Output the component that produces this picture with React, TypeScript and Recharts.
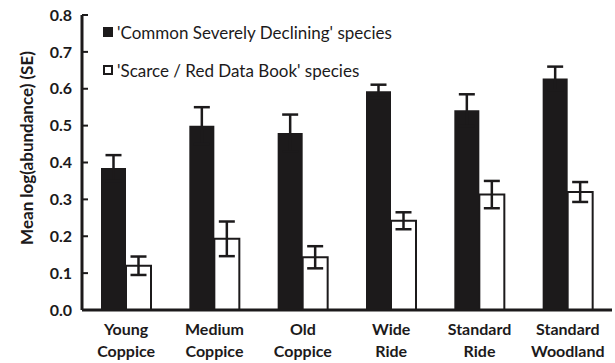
import { Bar, BarChart, ErrorBar, XAxis, YAxis } from 'recharts';

const HABITATS = [
  'Young Coppice',
  'Medium Coppice',
  'Old Coppice',
  'Wide Ride',
  'Standard Ride',
  'Standard Woodland',
];
const DECLINING = [0.385, 0.5, 0.48, 0.593, 0.542, 0.628];
const DECLINING_SE = [0.035, 0.05, 0.05, 0.018, 0.043, 0.032];
const SCARCE = [0.12, 0.193, 0.143, 0.242, 0.313, 0.32];
const SCARCE_SE = [0.025, 0.047, 0.03, 0.023, 0.037, 0.027];
const Y_TICKS = [0, 0.1, 0.2, 0.3, 0.4, 0.5, 0.6, 0.7, 0.8];

const data = HABITATS.map((name, i) => ({
  name,
  declining: DECLINING[i],
  decliningSe: DECLINING_SE[i],
  scarce: SCARCE[i],
  scarceSe: SCARCE_SE[i],
}));

const FONT = 'Lato, "Open Sans", sans-serif';
const INK = '#1c1a1b';

function HabitatTick({ x, y, payload }: any) {
  const words = String(payload.value).split(' ');
  return (
    <text
      x={x}
      y={y}
      textAnchor="middle"
      fontFamily={FONT}
      fontWeight={700}
      fontSize={16}
      fill={INK}
    >
      {words.map((w, i) => (
        <tspan key={w} x={x} dy={i === 0 ? 17 : 22}>
          {w}
        </tspan>
      ))}
    </text>
  );
}

function AxisTitle() {
  return (
    <text
      x={26}
      y={148}
      transform="rotate(-90 26 148)"
      textAnchor="middle"
      dominantBaseline="central"
      fontFamily={FONT}
      fontWeight={700}
      fontSize={17}
      fill={INK}
    >
      Mean log(abundance) (SE)
    </text>
  );
}

// legend drawn as an overlay so it does not eat plot space
function SeriesKey() {
  const rows = [
    { label: "'Common Severely Declining' species", fill: INK },
    { label: "'Scarce / Red Data Book' species", fill: '#fff' },
  ];
  return (
    <div
      style={{
        position: 'absolute',
        left: 103,
        top: 20,
        fontFamily: FONT,
        fontSize: 17,
        color: INK,
        whiteSpace: 'nowrap',
      }}
    >
      {rows.map((r) => (
        <div
          key={r.label}
          style={{ display: 'flex', alignItems: 'center', height: 24, marginBottom: 14 }}
        >
          <span
            style={{
              display: 'inline-block',
              boxSizing: 'border-box',
              width: 10,
              height: 10,
              background: r.fill,
              border: `2px solid ${INK}`,
              marginRight: 4,
            }}
          />
          {r.label}
        </div>
      ))}
    </div>
  );
}

export default function App() {
  return (
    <div style={{ position: 'absolute', left: 0, top: 0, width: 615, height: 363, background: '#fff' }}>
      <BarChart
        width={615}
        height={363}
        data={data}
        margin={{ top: 15, right: 3, left: 0, bottom: 0 }}
        barSize={25}
        barGap={0}
      >
        <XAxis
          dataKey="name"
          height={53}
          interval={0}
          tickLine={false}
          axisLine={{ stroke: INK, strokeWidth: 3 }}
          tick={<HabitatTick />}
        />
        <YAxis
          width={82}
          domain={[0, 0.8]}
          ticks={Y_TICKS}
          tickFormatter={(v: number) => v.toFixed(1)}
          tickSize={-6}
          tickMargin={16}
          axisLine={{ stroke: INK, strokeWidth: 3 }}
          tickLine={{ stroke: INK, strokeWidth: 2 }}
          tick={{ fontFamily: FONT, fontWeight: 700, fontSize: 16, fill: INK }}
          label={{ content: () => <AxisTitle /> }}
        />
        <Bar dataKey="declining" fill={INK} isAnimationActive={false}>
          <ErrorBar dataKey="decliningSe" width={8} stroke={INK} strokeWidth={2.5} />
        </Bar>
        <Bar
          dataKey="scarce"
          fill="#fff"
          stroke={INK}
          strokeWidth={2}
          isAnimationActive={false}
        >
          <ErrorBar dataKey="scarceSe" width={8} stroke={INK} strokeWidth={2.5} />
        </Bar>
      </BarChart>
      <SeriesKey />
    </div>
  );
}
